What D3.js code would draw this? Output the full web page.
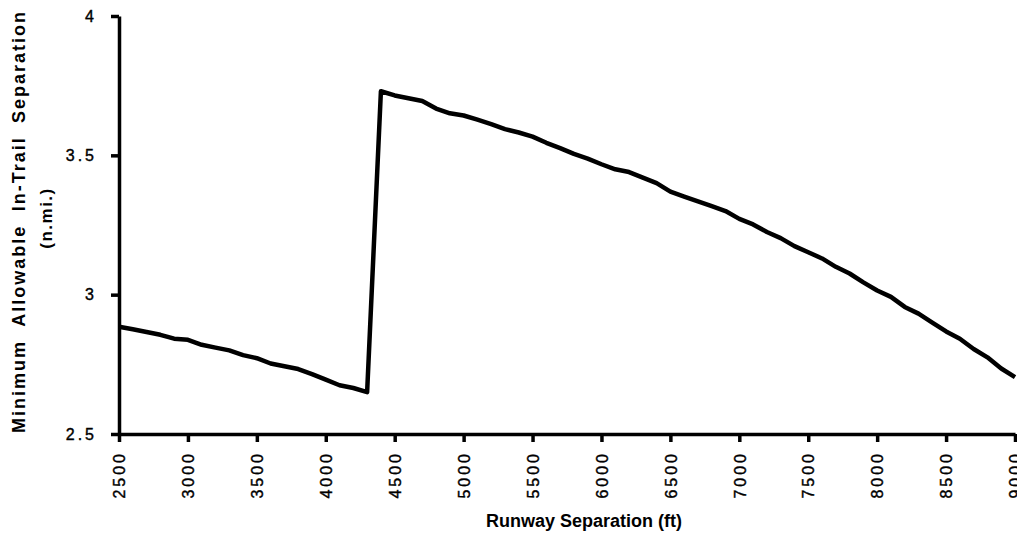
<!DOCTYPE html>
<html>
<head>
<meta charset="utf-8">
<script src="https://cdn.jsdelivr.net/npm/d3@7"></script>
<style>
  body { margin: 0; background: #fff; }
  svg { display: block; font-family: "Liberation Sans", Arial, Helvetica, sans-serif; }
  .tick text { font-size: 16px; letter-spacing: 3px; fill: #000; stroke: #000; stroke-width: 0.4px; }
  .axis path, .axis line { stroke: #000; }
</style>
</head>
<body>
<svg id="chart" width="1017" height="537"></svg>
<script>
// runway separation (ft) vs minimum allowable in-trail separation (n.mi.)
var runway_sep = [
  2500, 2600, 2700, 2800, 2900, 3000, 3100, 3200, 3300, 3400,
  3500, 3600, 3700, 3800, 3900, 4000, 4100, 4200, 4300, 4400,
  4500, 4600, 4700, 4800, 4900, 5000, 5100, 5200, 5300, 5400,
  5500, 5600, 5700, 5800, 5900, 6000, 6100, 6200, 6300, 6400,
  6500, 6600, 6700, 6800, 6900, 7000, 7100, 7200, 7300, 7400,
  7500, 7600, 7700, 7800, 7900, 8000, 8100, 8200, 8300, 8400,
  8500, 8600, 8700, 8800, 8900, 9000
];
var min_in_trail = [
  2.885, 2.876, 2.866, 2.856, 2.842, 2.838, 2.820, 2.810, 2.800, 2.783,
  2.772, 2.753, 2.743, 2.733, 2.715, 2.695, 2.675, 2.665, 2.650, 3.730,
  3.715, 3.705, 3.695, 3.668, 3.651, 3.643, 3.628, 3.612, 3.594, 3.582,
  3.567, 3.545, 3.526, 3.505, 3.488, 3.468, 3.450, 3.440, 3.420, 3.400,
  3.370, 3.352, 3.335, 3.318, 3.300, 3.272, 3.252, 3.225, 3.203, 3.174,
  3.152, 3.130, 3.100, 3.076, 3.044, 3.015, 2.992, 2.956, 2.932, 2.900,
  2.868, 2.842, 2.805, 2.775, 2.735, 2.704
];
var x_ticks = [2500, 3000, 3500, 4000, 4500, 5000, 5500, 6000, 6500, 7000, 7500, 8000, 8500, 9000];
var y_ticks = [2.5, 3, 3.5, 4];
var y_label_words = ["Minimum", "Allowable", "In-Trail", "Separation"];
var y_label_unit = "(n.mi.)";
var x_label = "Runway Separation (ft)";

var MARGIN = { top: 16, right: 2, bottom: 103, left: 119 };
var svg = d3.select( "#chart" );
var width = +svg.attr( "width" ) - MARGIN.left - MARGIN.right;
var height = +svg.attr( "height" ) - MARGIN.top - MARGIN.bottom;

var x = d3.scaleLinear().domain( [ 2500, 9000 ] ).range( [ 0, width ] );
var y = d3.scaleLinear().domain( [ 2.5, 4 ] ).range( [ height, 0 ] );

var g = svg.append( "g" ).attr( "transform", "translate(" + MARGIN.left + "," + MARGIN.top + ")" );

// x axis
var x_axis = g.append( "g" )
  .attr( "class", "axis" )
  .attr( "transform", "translate(0," + height + ")" )
  .call( d3.axisBottom( x ).tickValues( x_ticks ).tickFormat( d3.format( "d" ) ).tickSize( 8 ).tickSizeOuter( 0 ) );
x_axis.select( ".domain" ).attr( "stroke-width", 3.5 );
x_axis.selectAll( ".tick line" ).attr( "stroke-width", 3.5 );
x_axis.selectAll( ".tick text" )
  .attr( "transform", "rotate(-90)" )
  .attr( "text-anchor", "end" )
  .attr( "x", -17 )
  .attr( "y", 0 )
  .attr( "dy", "0.36em" );

// y axis
var y_axis = g.append( "g" )
  .attr( "class", "axis" )
  .call( d3.axisLeft( y ).tickValues( y_ticks ).tickFormat( function( d ){ return String( d ); } )
    .tickSize( 8 ).tickSizeOuter( 0 ).tickPadding( 14 ) );
y_axis.select( ".domain" ).attr( "stroke-width", 3.5 );
y_axis.selectAll( ".tick line" ).attr( "stroke-width", 3.5 );

// data line
var pts = runway_sep.map( function( d, i ){ return [ d, min_in_trail[ i ] ]; } );
g.append( "path" )
  .datum( pts )
  .attr( "fill", "none" )
  .attr( "stroke", "#000" )
  .attr( "stroke-width", 4.5 )
  .attr( "stroke-linejoin", "round" )
  .attr( "d", d3.line().x( function( d ){ return x( d[ 0 ] ); } ).y( function( d ){ return y( d[ 1 ] ); } ) );

// x title
svg.append( "text" )
  .attr( "x", 584 )
  .attr( "y", 527 )
  .attr( "text-anchor", "middle" )
  .style( "font-size", "18px" )
  .style( "font-weight", "bold" )
  .text( x_label );

// y title, first line justified from bottom of axis to top
var y_lab = svg.append( "g" ).attr( "transform", "translate(25,433) rotate(-90)" );
var words = y_lab.selectAll( "text" )
  .data( y_label_words )
  .enter()
  .append( "text" )
  .style( "font-size", "18px" )
  .style( "font-weight", "bold" )
  .style( "letter-spacing", "2px" )
  .text( function( d ){ return d; } );
var word_w = [];
words.each( function(){ word_w.push( this.getComputedTextLength() ); } );
var span = 423;
var gap = ( span - d3.sum( word_w ) ) / ( word_w.length - 1 );
var pos = 0;
words.attr( "x", function( d, i ){ var p = pos; pos += word_w[ i ] + gap; return p; } );

svg.append( "text" )
  .attr( "transform", "translate(52,218) rotate(-90)" )
  .attr( "text-anchor", "middle" )
  .style( "font-size", "17px" )
  .style( "font-weight", "bold" )
  .style( "letter-spacing", "1.5px" )
  .text( y_label_unit );
</script>
</body>
</html>
